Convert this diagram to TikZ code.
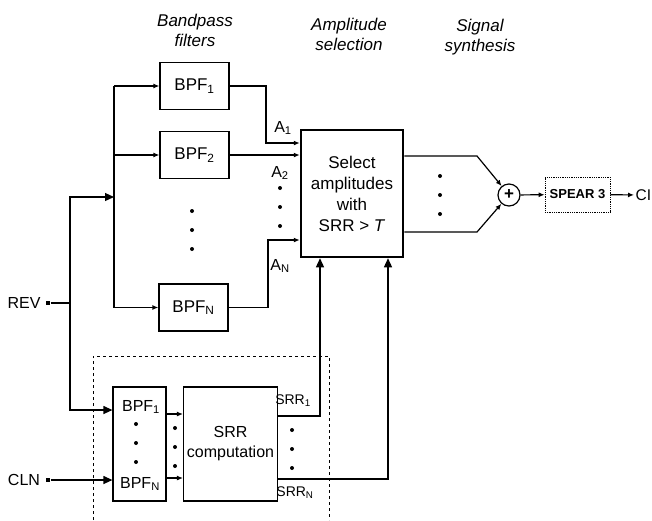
\documentclass[tikz,border=0pt]{standalone}
\usepackage{fontspec}
\setmainfont{Liberation Sans}
\usetikzlibrary{arrows.meta}

\begin{document}
\begin{tikzpicture}[x=1pt,y=-1pt,line width=1.2pt,
	filt/.style={draw,minimum width=69pt,minimum height=47pt,inner sep=0pt,font=\fontsize{17}{20}\selectfont},
	head/.style={align=center,inner sep=0pt,font=\fontsize{17}{20}\selectfont\itshape},
	lbl/.style={inner sep=0pt,font=\fontsize{16}{19}\selectfont},
	small/.style={inner sep=0pt,font=\fontsize{14}{17}\selectfont},
	pip/.style={circle,fill,inner sep=0pt,minimum size=4pt},
	port/.style={rectangle,fill,inner sep=0pt,minimum size=4pt},
	arr/.style={-{Latex[length=6pt,width=5pt]}},
	bigarr/.style={-{Triangle[length=9pt,width=8pt]}}]
	\useasboundingbox (0,0) rectangle (652,520);

	% Headings start here
	\node (hbpf) at (195,30) [head] {Bandpass\\filters};
	\node (hamp) at (349,34) [head] {Amplitude\\selection};
	\node (hsyn) at (480,37) [head] {Signal\\synthesis};

	% Nodes start here
	\node (bpfa) at (194.5,86) [filt] {BPF\textsubscript{1}};
	\node (bpfb) at (194.5,155) [filt] {BPF\textsubscript{2}};
	\node (bpfn) at (193.5,307.5) [filt] {BPF\textsubscript{N}};
	\node (sel) at (352,193.5) [draw,line width=2.5pt,minimum width=102pt,minimum height=127pt,align=center,font=\fontsize{17}{21}\selectfont] {Select\\amplitudes\\with\\SRR > \textit{T}};
	\node (sum) at (509,195) [circle,draw,minimum size=22pt,inner sep=0pt,font=\bfseries\fontsize{17}{17}\selectfont] {+};
	\node (spear) at (577.5,194.5) [draw,densely dotted,line width=0.8pt,minimum width=65pt,minimum height=35pt,inner sep=0pt,font=\bfseries\fontsize{13}{15}\selectfont] {SPEAR 3};
	\node (ci) at (634,195) [anchor=west,inner sep=1pt,font=\fontsize{15.5}{18}\selectfont] {CI};

	\node (rev) at (24,303) [lbl] {REV};
	\node (revdot) at (48,303) [port] {};
	\node (cln) at (24,480) [lbl] {CLN};
	\node (clndot) at (48,480) [port] {};

	\node (sbpf) at (139.5,444) [draw,minimum width=53pt,minimum height=114pt] {};
	\node (sbpfa) at (141,407) [lbl] {BPF\textsubscript{1}};
	\node (sbpfn) at (140,484) [lbl] {BPF\textsubscript{N}};
	\node (srr) at (230.5,444) [draw,minimum width=89pt,minimum height=114pt,align=center,font=\fontsize{16}{20}\selectfont] {SRR\\computation};

	% Labels start here
	\node (la) at (283,128) [lbl] {A\textsubscript{1}};
	\node (lb) at (280,173) [lbl] {A\textsubscript{2}};
	\node (ln) at (280,266) [lbl] {A\textsubscript{N}};
	\node (lsa) at (293,401) [small] {SRR\textsubscript{1}};
	\node (lsn) at (295,493) [small] {SRR\textsubscript{N}};

	% Dots start here
	\foreach \y in {211,230,249} \node (fd\y) at (192,\y) [pip] {};
	\foreach \y in {188,207,226} \node (ad\y) at (280,\y) [pip] {};
	\foreach \y in {176,195,214} \node (od\y) at (440,\y) [pip] {};
	\foreach \y in {424,443,462} \node (sd\y) at (136,\y) [pip] {};
	\foreach \y in {428,447,466} \node (md\y) at (175,\y) [pip] {};
	\foreach \y in {430,449,468} \node (rd\y) at (292,\y) [pip] {};

	% Coordinates start here
	\coordinate (busa) at (114,86);
	\coordinate (busb) at (114,155);
	\coordinate (busn) at (114,307.5);
	\coordinate (busin) at (114,197);
	\coordinate (revsplit) at (70,303);
	\coordinate (ka) at (266,143);
	\coordinate (kn) at (268,240);
	\coordinate (ja) at (477,156);
	\coordinate (jn) at (477,232);

	% Lines start here
	\draw (busa) -- (busn);
	\draw[arr] (busa) -- (bpfa);
	\draw[arr] (busb) -- (bpfb);
	\draw[arr] (busn) -- (bpfn);
	\draw (revdot) -- (revsplit);
	\draw[bigarr] (revsplit) |- (busin);
	\draw[bigarr] (revsplit) |- ([yshift=34pt]sbpf.west);
	\draw[bigarr] (clndot) -- ([yshift=-36pt]sbpf.west);

	\draw[arr] (bpfa.east) -| (ka) -- (ka -| sel.west);
	\draw[arr] (bpfb) -- (bpfb -| sel.west);
	\draw[arr] (bpfn.east) -| (kn) -- (kn -| sel.west);

	\draw[arr] ([yshift=30pt]sbpf.east) -- ([yshift=30pt]srr.west);
	\draw[arr] ([yshift=-34pt]sbpf.east) -- ([yshift=-34pt]srr.west);
	\draw[bigarr] ([yshift=28pt]srr.east) -| ([xshift=-32pt]sel.south);
	\draw[bigarr] ([yshift=-35pt]srr.east) -| ([xshift=36pt]sel.south);

	\draw[arr] (ja -| sel.east) -- (ja) -- (sum);
	\draw[arr] (jn -| sel.east) -- (jn) -- (sum);
	\draw[arr] (sum) -- (spear);
	\draw[arr] (spear) -- (ci);

	% Dashed frame
	\draw[dashed,line width=1pt] (93,520) -- (93,356) -- (329,356) -- (329,520);

\end{tikzpicture}
\end{document}
